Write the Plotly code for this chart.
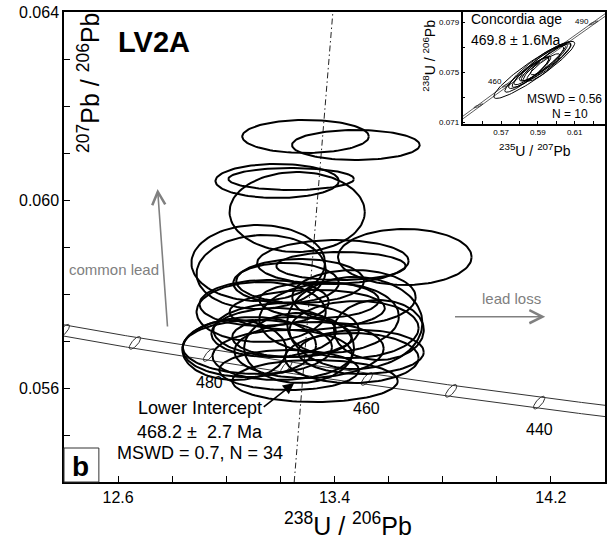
import numpy as np
import plotly.graph_objects as go

# ---------------- data ----------------
# Main Tera-Wasserburg ellipses: 238U/206Pb centre, 207Pb/206Pb centre, half-widths, correlation
ell_x = [13.293, 13.479, 13.188, 13.240, 13.262, 13.118, 13.129, 13.660, 13.394, 13.424,
         13.273, 13.140, 13.475, 13.472, 13.085, 13.221, 13.328, 13.030, 13.207, 13.464,
         13.232, 13.175, 13.243, 13.472, 13.299, 13.221, 13.498, 13.115, 13.380, 13.269,
         13.129, 13.564, 13.343, 13.306]
ell_y = [0.061351, 0.061170, 0.060404, 0.060447, 0.059745, 0.058660, 0.058468, 0.058787, 0.058681, 0.058596,
         0.058277, 0.057809, 0.057383, 0.057936, 0.056872, 0.057234, 0.056149, 0.056809, 0.056702, 0.056638,
         0.056383, 0.057181, 0.057085, 0.057245, 0.057660, 0.058234, 0.056766, 0.056872, 0.057489, 0.056851,
         0.057617, 0.057234, 0.057872, 0.056809]
ell_sx = [0.234, 0.236, 0.228, 0.232, 0.250, 0.247, 0.239, 0.247, 0.280, 0.239,
          0.236, 0.239, 0.250, 0.228, 0.247, 0.269, 0.306, 0.192, 0.258, 0.247,
          0.258, 0.230, 0.221, 0.239, 0.287, 0.195, 0.232, 0.276, 0.258, 0.203,
          0.239, 0.166, 0.221, 0.276]
ell_sy = [0.000351, 0.000319, 0.000362, 0.000234, 0.000851, 0.000809, 0.000787, 0.000596, 0.000468, 0.000298,
          0.000468, 0.000489, 0.000979, 0.000574, 0.000638, 0.000574, 0.000447, 0.000638, 0.000532, 0.000532,
          0.000426, 0.000521, 0.000426, 0.000606, 0.000426, 0.000426, 0.000468, 0.000574, 0.000745, 0.000745,
          0.000638, 0.000638, 0.000383, 0.000596]
ell_rho = [0.0, 0.0, 0.0, 0.0, 0.0, 0.0, 0.05, 0.0, 0.05, 0.0,
           0.0, 0.05, 0.0, 0.0, 0.05, 0.0, 0.0, 0.0, 0.05, 0.0,
           0.0, 0.05, 0.0, 0.05, 0.1, 0.0, 0.0, 0.0, 0.05, 0.0,
           0.0, 0.0, 0.0, 0.05]

# Inset (Wetherill) ellipses: 207Pb/235U, 206Pb/238U
ins_x = [0.588, 0.590, 0.592, 0.595, 0.586, 0.593, 0.597, 0.589, 0.591, 0.584]
ins_y = [0.0752, 0.0755, 0.0757, 0.0758, 0.0750, 0.0754, 0.0761, 0.0753, 0.0756, 0.0748]
ins_sx = [0.022, 0.016, 0.012, 0.013, 0.010, 0.009, 0.011, 0.008, 0.014, 0.012]
ins_sy = [0.0023, 0.0018, 0.0014, 0.0015, 0.0012, 0.0011, 0.0013, 0.0010, 0.0016, 0.0014]
ins_rho = [0.93, 0.92, 0.90, 0.92, 0.90, 0.88, 0.90, 0.88, 0.93, 0.92]

# concordia age markers (Ma) and labelled ages
marker_ages = [440, 450, 460, 470, 480, 490, 500]
label_ages = [480, 460, 440]
inset_marker_ages = [450, 460, 470, 480, 490]
inset_label_ages = [460, 490]

# discordia (dash-dot) line end points
disc_x = [13.251, 13.394]
disc_y = [0.054, 0.064]

# axis ticks (labelled major ticks + unlabelled minor ticks)
x_major = [12.6, 13.4, 14.2]
x_minor = [12.4, 12.6, 12.8, 13.0, 13.2, 13.4, 13.6, 13.8, 14.0, 14.2, 14.4]
y_major = [0.056, 0.060, 0.064]
y_minor = [0.054, 0.055, 0.056, 0.057, 0.058, 0.059, 0.060, 0.061, 0.062, 0.063, 0.064]
ix_major = [0.57, 0.59, 0.61]
ix_minor = [0.56, 0.57, 0.58, 0.59, 0.60, 0.61, 0.62]
iy_major = [0.071, 0.075, 0.079]
iy_minor = [0.071, 0.073, 0.075, 0.077, 0.079]

# ---------------- helpers ----------------
L238, L235, U_RATIO = 1.55125e-10, 9.8485e-10, 137.88
FONT = "Arial, Liberation Sans, sans-serif"


def ellipse(cx, cy, sx, sy, rho, n=120):
    t = np.linspace(0, 2 * np.pi, n)
    x = cx + sx * np.cos(t)
    y = cy + sy * (rho * np.cos(t) + np.sqrt(1 - rho ** 2) * np.sin(t))
    return list(x) + [None], list(y) + [None]


def ratios(age_ma):
    a = np.asarray(age_ma, dtype=float) * 1e6
    r68 = np.exp(L238 * a) - 1
    r75 = np.exp(L235 * a) - 1
    return r68, r75


def tw(age_ma):
    r68, r75 = ratios(age_ma)
    return 1 / r68, r75 / r68 / U_RATIO


fig = go.Figure()

# concordia envelope (main)
ages = np.linspace(420, 510, 300)
cx, cy = tw(ages)
for off in (0.00012, -0.00012):
    fig.add_trace(go.Scatter(x=cx, y=cy + off, mode="lines",
                             line=dict(color="#333333", width=1), hoverinfo="skip", showlegend=False))

# concordia markers (main)
mx, my = [], []
for a in marker_ages:
    x0, y0 = tw(a)
    ex, ey = ellipse(float(x0), float(y0), 0.021, 0.000135, 0.75, 60)
    mx += ex
    my += ey
fig.add_trace(go.Scatter(x=mx, y=my, mode="lines", line=dict(color="#333333", width=1),
                         hoverinfo="skip", showlegend=False))

# discordia
fig.add_trace(go.Scatter(x=disc_x, y=disc_y, mode="lines",
                         line=dict(color="#222222", width=1, dash="6px,3px,1.5px,3px"),
                         hoverinfo="skip", showlegend=False))

# data ellipses (main)
ex_all, ey_all = [], []
for i in range(len(ell_x)):
    ex, ey = ellipse(ell_x[i], ell_y[i], ell_sx[i], ell_sy[i], ell_rho[i])
    ex_all += ex
    ey_all += ey
fig.add_trace(go.Scatter(x=ex_all, y=ey_all, mode="lines", line=dict(color="black", width=2),
                         hoverinfo="skip", showlegend=False))

# ---------------- inset ----------------
r68, r75 = ratios(np.linspace(430, 510, 200))
for off in (0.0001, -0.0001):
    fig.add_trace(go.Scatter(x=r75, y=r68 + off, mode="lines", line=dict(color="#333333", width=0.8),
                             xaxis="x2", yaxis="y2", hoverinfo="skip", showlegend=False))
imx, imy = [], []
for a in inset_marker_ages:
    a68, a75 = ratios(a)
    ex, ey = ellipse(float(a75), float(a68), 0.0025, 0.00016, 0.9, 40)
    imx += ex
    imy += ey
fig.add_trace(go.Scatter(x=imx, y=imy, mode="lines", line=dict(color="#333333", width=0.8),
                         xaxis="x2", yaxis="y2", hoverinfo="skip", showlegend=False))
ix_all, iy_all = [], []
for i in range(len(ins_x)):
    ex, ey = ellipse(ins_x[i], ins_y[i], ins_sx[i], ins_sy[i], ins_rho[i])
    ix_all += ex
    iy_all += ey
fig.add_trace(go.Scatter(x=ix_all, y=iy_all, mode="lines", line=dict(color="black", width=1),
                         xaxis="x2", yaxis="y2", hoverinfo="skip", showlegend=False))

# ---------------- annotations ----------------
ann = []
lab_off = {480: (0.0, -0.00058), 460: (0.0, -0.00062), 440: (0.0, -0.00058)}
for a in label_ages:
    x0, y0 = tw(a)
    ann.append(dict(x=float(x0) + lab_off[a][0], y=float(y0) + lab_off[a][1], xref="x", yref="y",
                    text=str(a), showarrow=False, font=dict(size=16, color="black", family=FONT)))
for a, dx, dy in zip(inset_label_ages, (-0.0062, -0.006), (0.0003, 0.00015)):
    a68, a75 = ratios(a)
    ann.append(dict(x=float(a75) + dx, y=float(a68) + dy, xref="x2", yref="y2", text=str(a),
                    showarrow=False, font=dict(size=8, color="black", family=FONT)))

# lower intercept text + arrow
ann.append(dict(x=13.251, y=0.056106, ax=13.133, ay=0.055574, xref="x", yref="y", axref="x", ayref="y",
                text="", showarrow=True, arrowhead=2, arrowsize=1.4, arrowwidth=1.6, arrowcolor="black"))
for txt, yy in zip(["Lower Intercept", "468.2 \u00b1\u00a0 2.7 Ma", "MSWD = 0.7, N = 34"],
                   [0.055574, 0.055064, 0.054617]):
    ann.append(dict(x=12.901, y=yy, xref="x", yref="y", text=txt, showarrow=False,
                    font=dict(size=18, color="black", family=FONT)))

# common lead / lead loss arrows
ann.append(dict(x=12.746, y=0.060234, ax=12.783, ay=0.057277, xref="x", yref="y", axref="x", ayref="y",
                text="", showarrow=True, arrowhead=5, arrowsize=1.6, arrowwidth=1.6, arrowcolor="#808080"))
ann.append(dict(x=14.179, y=0.057517, ax=13.840, ay=0.057517, xref="x", yref="y", axref="x", ayref="y",
                text="", showarrow=True, arrowhead=5, arrowsize=1.6, arrowwidth=1.6, arrowcolor="#808080"))
ann.append(dict(x=12.584, y=0.058511, xref="x", yref="y", text="common lead", showarrow=False,
                font=dict(size=15, color="#808080", family=FONT)))
ann.append(dict(x=14.054, y=0.057894, xref="x", yref="y", text="lead loss", showarrow=False,
                font=dict(size=15, color="#808080", family=FONT)))


def px(xp, yp):
    return (xp - 64) / 543, (482 - yp) / 470


def add_text(text, xp, yp, size, xanchor="center", bold=False, angle=0, color="black"):
    x, y = px(xp, yp)
    ann.append(dict(x=x, y=y, xref="paper", yref="paper", text=("<b>%s</b>" % text) if bold else text,
                    showarrow=False, xanchor=xanchor, yanchor="middle", textangle=angle,
                    font=dict(size=size, color=color, family=FONT)))


add_text("LV2A", 116, 42, 29, xanchor="left", bold=True)
add_text("b", 81, 466, 28, bold=True)
add_text("<sup>207</sup>Pb / <sup>206</sup>Pb", 89, 83, 25, angle=-90)
add_text("<sup>238</sup>U / <sup>206</sup>Pb", 349, 524, 25)
add_text("Concordia age", 470, 19, 14, xanchor="left")
add_text("469.8 \u00b1 1.6Ma", 470, 40, 14, xanchor="left")
add_text("MSWD = 0.56", 606, 99, 12, xanchor="right")
add_text("N = 10", 572, 114, 12)
add_text("<sup>235</sup>U / <sup>207</sup>Pb", 537, 150, 14)
add_text("<sup>238</sup>U / <sup>206</sup>Pb", 430, 56, 14, angle=-90)

bx0, by0 = px(64, 482)
bx1, by1 = px(99, 448)
shapes = [dict(type="rect", xref="paper", yref="paper", x0=bx0, y0=by0, x1=bx1, y1=by1,
               line=dict(color="#333333", width=1), fillcolor="white", layer="above")]


def axis(rng, major, minor, ticklen, fsize, domain, **kw):
    return dict(range=rng, tickmode="array", tickvals=major, ticklen=ticklen, tickwidth=1,
                domain=domain, showgrid=False, zeroline=False, showline=True, linecolor="black",
                linewidth=1.5, mirror=True, ticks="inside", tickcolor="black",
                tickfont=dict(family=FONT, color="black", size=fsize),
                minor=dict(tickmode="array", tickvals=minor, ticks="inside", ticklen=ticklen,
                           tickwidth=1, tickcolor="black", showgrid=False), **kw)


fig.update_layout(
    width=611, height=542,
    margin=dict(l=64, r=4, t=12, b=60),
    paper_bgcolor="white", plot_bgcolor="white",
    showlegend=False,
    xaxis=axis([12.4, 14.4], x_major, x_minor, 6, 16, [0, 1]),
    yaxis=axis([0.054, 0.064], y_major, y_minor, 6, 16, [0, 1], tickformat=".3f"),
    xaxis2=axis([0.549, 0.6265], ix_major, ix_minor, 3, 8, [0.7366, 1], anchor="y2", tickformat=".2f"),
    yaxis2=axis([0.07084, 0.07986], iy_major, iy_minor, 3, 8, [0.7617, 1], anchor="x2", tickformat=".3f"),
    annotations=ann,
    shapes=shapes,
)

fig.write_html("out.html")
